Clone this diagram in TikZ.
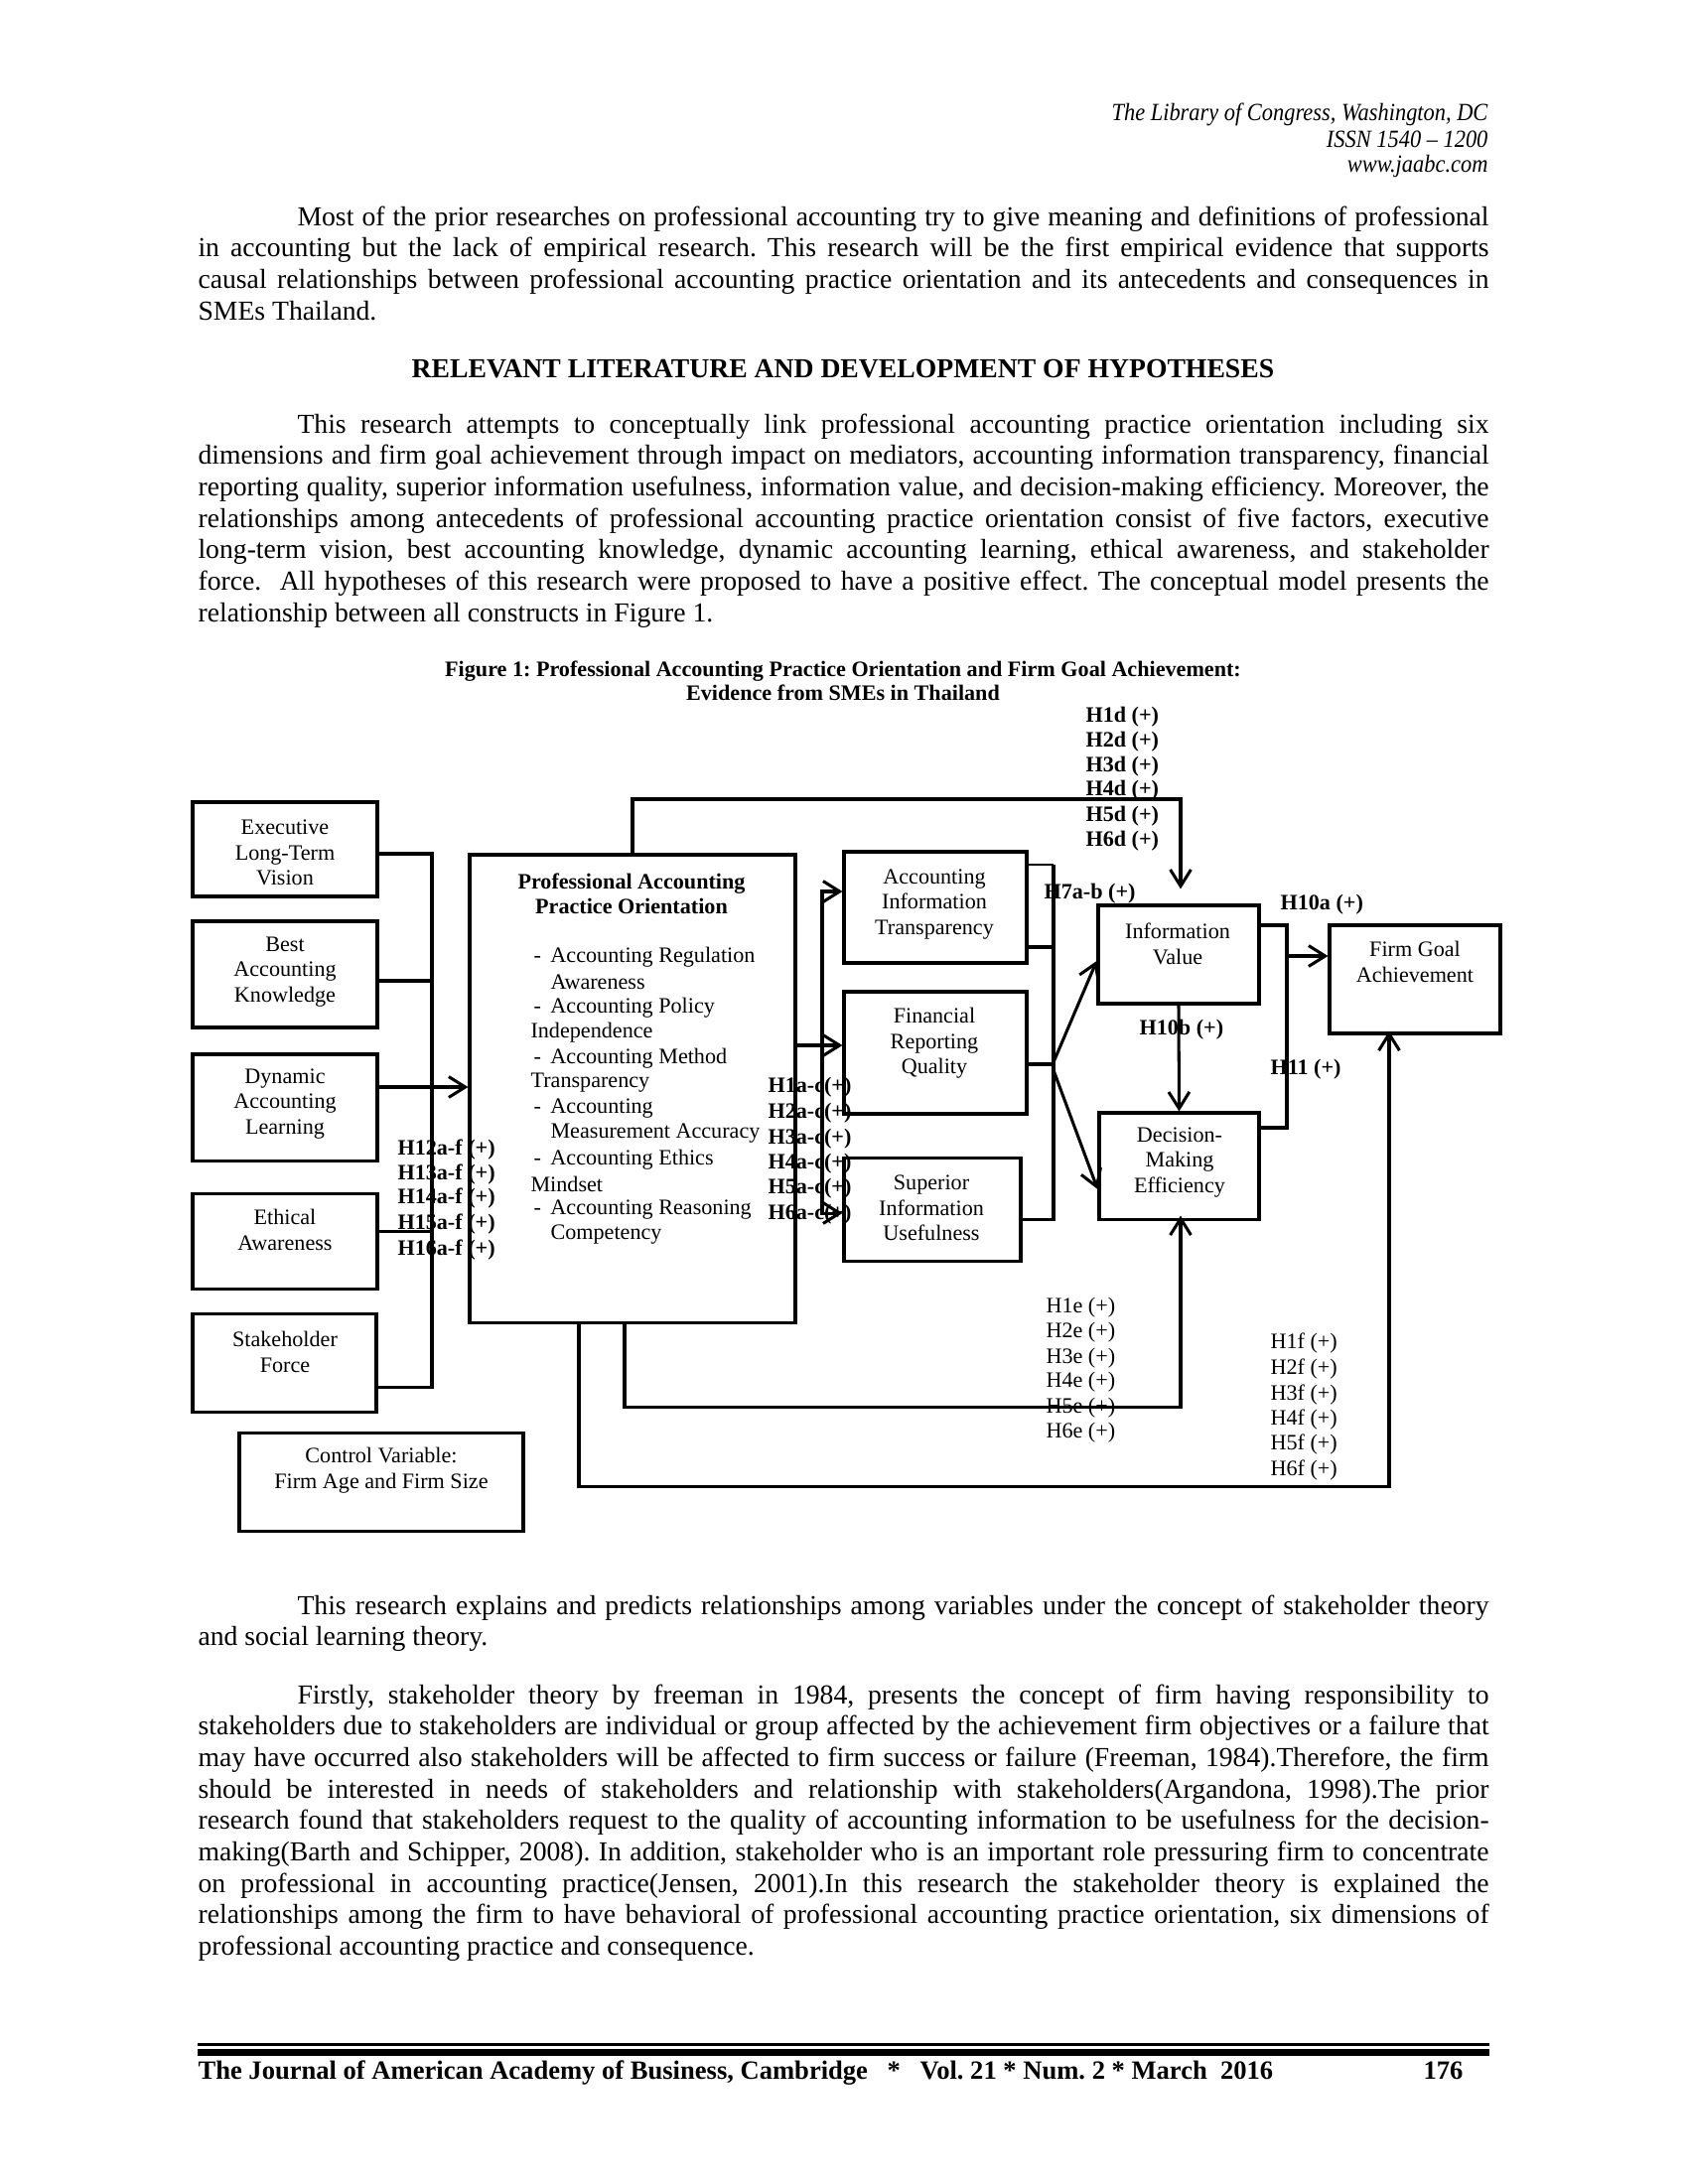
\documentclass[tikz,border=0pt]{standalone}
\usepackage{fontspec}
\setmainfont{Liberation Serif}
\usetikzlibrary{arrows.meta}
\newcommand\dsh{\makebox[6.1bp][l]{-}}
\newcommand\pset{\hyphenpenalty=10000 \exhyphenpenalty=10000 \tolerance=10000 \frenchspacing\spaceskip=0.25em plus 0.5em minus 0.1em\relax}
\begin{document}
\frenchspacing
\begin{tikzpicture}[x=0.36bp,y=-0.36bp,
 box/.style={draw, line width=1.1pt, inner sep=0, rectangle},
 wh/.style 2 args={minimum width=#1*0.36bp, minimum height=#2*0.36bp},
 ln/.style={line width=1.1pt},
 arr/.style={line width=1.1pt, -{Straight Barb[length=6bp,width=7.5bp]}},
 ftxt/.style={font=\fontsize{8}{9.2}\selectfont, align=center, inner sep=0},
 lblb/.style={font=\fontsize{8}{9.2}\selectfont\bfseries, inner sep=0, anchor=west},
 lblr/.style={font=\fontsize{8}{9.2}\selectfont, inner sep=0, anchor=west},
 para/.style={font=\fontsize{10}{11.45}\selectfont, text width=468bp, align=justify, inner sep=0, anchor=base west},
 hdr/.style={font=\fontsize{9}{10}\selectfont\itshape, inner sep=0, anchor=base east},
 foot/.style={font=\fontsize{9.6}{10}\selectfont\bfseries, inner sep=0, anchor=base west}]
\fill[white] (0,0) rectangle (1700,2200);
\useasboundingbox (0,0) rectangle (1700,2200);

% header
\node[hdr] (h1) at (1499,121) {\scalebox{0.9}[1]{The Library of Congress, Washington, DC}};
\node[hdr] (h2) at (1499,148) {\scalebox{0.9}[1]{ISSN 1540 -- 1200}};
\node[hdr] (h3) at (1499,173) {\scalebox{0.9}[1]{www.jaabc.com}};

% paragraph 1
\node[para] (par1) at (199,227) {\pset\hspace*{36bp}Most of the prior researches on professional accounting try to give meaning and definitions of professional\linebreak in accounting but the lack of empirical research. This research will be the first empirical evidence that supports\linebreak causal relationships between professional accounting practice orientation and its antecedents and consequences in\linebreak SMEs Thailand.};

\node[font=\fontsize{10}{12}\selectfont\bfseries, inner sep=0, anchor=base] (head) at (849,380) {RELEVANT LITERATURE AND DEVELOPMENT OF HYPOTHESES};

\node[para] (par2) at (199,436) {\pset\hspace*{36bp}This research attempts to conceptually link professional accounting practice orientation including six\linebreak dimensions and firm goal achievement through impact on mediators, accounting information transparency, financial\linebreak reporting quality, superior information usefulness, information value, and decision-making efficiency. Moreover, the\linebreak relationships among antecedents of professional accounting practice orientation consist of five factors, executive\linebreak long-term vision, best accounting knowledge, dynamic accounting learning, ethical awareness, and stakeholder\linebreak force.\ \ All hypotheses of this research were proposed to have a positive effect. The conceptual model presents the\linebreak relationship between all constructs in Figure 1.};

% caption
\node[font=\fontsize{8}{9}\selectfont\bfseries, inner sep=0, anchor=base] (cap1) at (849,681) {Figure 1: Professional Accounting Practice Orientation and Firm Goal Achievement:};
\node[font=\fontsize{8}{9}\selectfont\bfseries, inner sep=0, anchor=base] (cap2) at (849,705) {Evidence from SMEs in Thailand};

% boxes
\node[box, wh={186}{95}] (exec) at (287,855.5) {};
\node[box, wh={186}{107}] (best) at (287,981.5) {};
\node[box, wh={186}{107}] (dyn) at (287,1115.5) {};
\node[box, wh={186}{96}] (eth) at (287,1250) {};
\node[box, wh={185}{99}] (stake) at (286.5,1372.5) {};
\node[box, wh={286}{99}] (ctrl) at (384,1492.5) {};
\node[box, wh={328}{471}] (papo) at (637,1096.5) {};
\node[box, wh={184}{112}] (ait) at (942,914) {};
\node[box, wh={184}{123}] (frq) at (942,1060.5) {};
\node[box, wh={178}{104}] (siu) at (939,1218) {};
\node[box, wh={162}{99}] (iv) at (1187,961.5) {};
\node[box, wh={161}{107}] (dme) at (1187.5,1174.5) {};
\node[box, wh={172}{109}] (fga) at (1425,986.5) {};

% box texts
\node[ftxt] (texec) at (287,859) {Executive\\Long-Term\\Vision};
\node[ftxt] (tbest) at (287,979) {Best\\Accounting\\Knowledge};
\node[ftxt] (tdyn) at (287,1112) {Dynamic\\Accounting\\Learning};
\node[ftxt] (teth) at (287,1239) {Ethical\\Awareness};
\node[ftxt] (tstake) at (287,1362) {Stakeholder\\Force};
\node[ftxt] (tctrl) at (384,1481) {Control Variable:\\Firm Age and Firm Size};
\node[ftxt] (tait) at (941,911) {Accounting\\Information\\Transparency};
\node[ftxt] (tfrq) at (941,1051) {Financial\\Reporting\\Quality};
\node[ftxt] (tsiu) at (938,1217) {Superior\\Information\\Usefulness};
\node[ftxt] (tiv) at (1186,951) {Information\\Value};
\node[ftxt] (tdme) at (1188,1171) {Decision-\\Making\\Efficiency};
\node[ftxt] (tfga) at (1425,969) {Firm Goal\\Achievement};

% PAPO text
\node[ftxt, font=\fontsize{8}{9.2}\selectfont\bfseries] (ptitle) at (636,900.5) {Professional Accounting\\Practice Orientation};
\node[lblr] (pl1) at (537,964) {\dsh Accounting Regulation};
\node[lblr] (pl2) at (554,989) {Awareness};
\node[lblr] (pl3) at (537,1015) {\dsh Accounting Policy};
\node[lblr] (pl4) at (534,1040) {Independence};
\node[lblr] (pl5) at (537,1066) {\dsh Accounting Method};
\node[lblr] (pl6) at (534,1091) {Transparency};
\node[lblr] (pl7) at (537,1117) {\dsh Accounting};
\node[lblr] (pl8) at (554,1142) {Measurement Accuracy};
\node[lblr] (pl9) at (537,1168) {\dsh Accounting Ethics};
\node[lblr] (pl10) at (534,1193) {Mindset};
\node[lblr] (pl11) at (537,1219) {\dsh Accounting Reasoning};
\node[lblr] (pl12) at (554,1244) {Competency};

% labels
\foreach \i/\y in {1/722,2/747,3/772,4/796,5/822,6/847} \node[lblb] (hd\i) at (1093,\y) {H\i d (+)};
\foreach \i/\y in {1/1095,2/1121,3/1147,4/1172,5/1197,6/1223} \node[lblb] (hac\i) at (773,\y) {H\i a-c(+)};
\foreach \i/\y in {12/1158,13/1183,14/1207,15/1233,16/1259} \node[lblb] (haf\i) at (400,\y) {H\i a-f (+)};
\foreach \i/\y in {1/1317,2/1342,3/1368,4/1392,5/1418,6/1443} \node[lblr] (he\i) at (1053,\y) {H\i e (+)};
\foreach \i/\y in {1/1353,2/1379,3/1405,4/1430,5/1455,6/1481} \node[lblr] (hf\i) at (1279,\y) {H\i f (+)};
\node[lblb] (h7) at (1051,900) {H7a-b (+)};
\node[lblb] (h10a) at (1289,911) {H10a (+)};
\node[lblb] (h10b) at (1147,1037) {H10b (+)};
\node[lblb] (h11) at (1279,1077) {H11 (+)};

% antecedents -> PAPO
\coordinate (b1) at (435,860);
\coordinate (b2) at (435,988);
\coordinate (b4) at (435,1240);
\coordinate (b5) at (435,1397);
\draw[ln] (exec.east |- b1) -- (b1) -- (b5) -- (stake.east |- b5);
\draw[ln] (best.east |- b2) -- (b2);
\draw[ln] (eth.east |- b4) -- (b4);
\draw[arr] (dyn.east |- 0,1095) -- (papo.west |- 0,1095);

% PAPO -> information value (top loop)
\coordinate (t1) at (637,805);
\coordinate (t2) at (1189,805);
\draw[arr, shorten >=5.4bp] (papo.north) -- (t1) -- (t2) -- (t2 |- iv.north);

% PAPO -> mediators
\coordinate (m1) at (828,898);
\coordinate (m3) at (828,1222);
\draw[arr] (papo.east |- 0,1053) -- (frq.west |- 0,1053);
\draw[arr] (m3) -- (m1) -- (ait.west |- m1);
\draw[arr] (m1) -- (m3) -- (siu.west |- m3);

% mediators -> IV / DME
\coordinate (k1) at (1061,871);
\coordinate (k4) at (1061,1228);
\coordinate (k2) at (1061,954);
\coordinate (k3) at (1061,1072);
\draw[line width=0.6pt] (ait.east |- k1) -- (k1);
\draw[ln] (k1) -- (k4) -- (siu.east |- k4);
\draw[ln] (ait.east |- k2) -- (k2);
\draw[ln] (frq.east |- k3) -- (k3);
\draw[arr] (1061,1070) -- (iv.west |- 0,968);
\draw[arr] (1061,1078) -- (dme.west |- 0,1198);

% IV -> DME
\draw[arr] (iv.south) -- (dme.north);

% IV, DME -> FGA
\coordinate (f1) at (1296,932);
\coordinate (f2) at (1296,1136);
\coordinate (f3) at (1296,963);
\draw[ln] (iv.east |- f1) -- (f1) -- (f2) -- (dme.east |- f2);
\draw[arr] (f3) -- (fga.west |- f3);

% bottom loops
\coordinate (e1) at (629,1417);
\coordinate (e2) at (1189,1417);
\draw[arr, shorten >=-1.8bp] (papo.south -| e1) -- (e1) -- (e2) -- (e2 |- dme.south);
\coordinate (g1) at (583,1497);
\coordinate (g2) at (1399,1497);
\draw[arr, shorten >=-1.4bp] (papo.south -| g1) -- (g1) -- (g2) -- (g2 |- fga.south);

% paragraphs after figure
\node[para] (par3) at (199,1626) {\pset\hspace*{36bp}This research explains and predicts relationships among variables under the concept of stakeholder theory\linebreak and social learning theory.};

\node[para] (par4) at (199,1716) {\pset\hspace*{36bp}Firstly, stakeholder theory by freeman in 1984, presents the concept of firm having responsibility to\linebreak stakeholders due to stakeholders are individual or group affected by the achievement firm objectives or a failure that\linebreak may have occurred also stakeholders will be affected to firm success or failure (Freeman, 1984).Therefore, the firm\linebreak should be interested in needs of stakeholders and relationship with stakeholders(Argandona, 1998).The prior\linebreak research found that stakeholders request to the quality of accounting information to be usefulness for the decision-\linebreak making(Barth and Schipper, 2008). In addition, stakeholder who is an important role pressuring firm to concentrate\linebreak on professional in accounting practice(Jensen, 2001).In this research the stakeholder theory is explained the\linebreak relationships among the firm to have behavioral of professional accounting practice orientation, six dimensions of\linebreak professional accounting practice and consequence.};

% footer
\coordinate (r1) at (199,2059.5);
\coordinate (r2) at (1500,2059.5);
\coordinate (r3) at (199,2067.5);
\coordinate (r4) at (1500,2067.5);
\draw[line width=1.1bp] (r1) -- (r2);
\draw[line width=2.6bp] (r3) -- (r4);
\node[foot] (ft1) at (199,2094) {The Journal of American Academy of Business, Cambridge};
\node[foot] (ft2) at (893,2094) {*};
\node[foot] (ft3) at (926,2094) {Vol. 21 * Num. 2 * March\ \ 2016};
\node[foot] (ft4) at (1433,2094) {176};
\end{tikzpicture}
\end{document}
